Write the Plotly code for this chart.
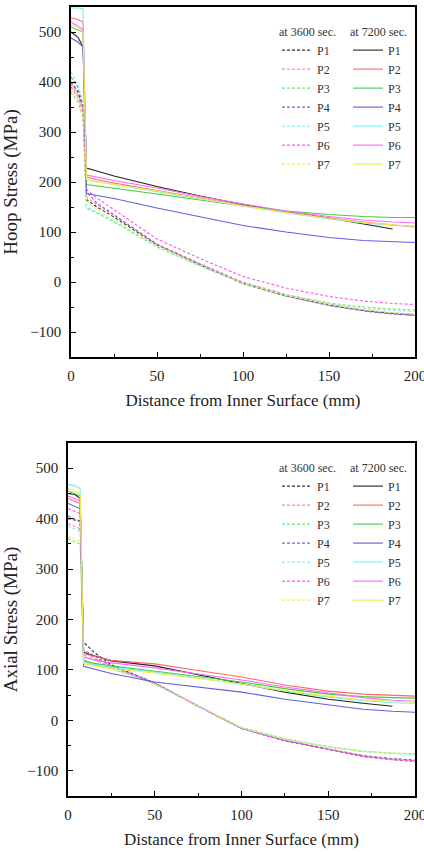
import plotly.graph_objects as go

# ---------------- data ----------------
distance = [0, 4, 7, 9, 15, 25, 50, 75, 100, 125, 150, 170, 187, 200]
series = ["P1", "P2", "P3", "P4", "P5", "P6", "P7"]

# Hoop stress (MPa)
hoop_3600 = {
    "P1": [400, 380, 350, 165, 150, 130, 74, 35, -3, -28, -46, -57, -63, -66],
    "P2": [395, 375, 345, 170, 155, 133, 76, 37, 0, -25, -44, -56, -62, -65],
    "P3": [380, 360, 330, 148, 138, 120, 70, 32, -2, -26, -42, -50, -54, -56],
    "P4": [410, 390, 355, 180, 158, 134, 75, 34, -3, -28, -47, -58, -64, -67],
    "P5": [420, 395, 360, 150, 140, 122, 72, 33, -2, -27, -44, -53, -57, -59],
    "P6": [390, 370, 340, 185, 168, 145, 86, 47, 11, -12, -29, -38, -43, -45],
    "P7": [385, 365, 335, 160, 145, 125, 73, 34, -3, -27, -45, -55, -61, -64],
}
hoop_7200 = {
    "P1": [500, 490, 470, 228, 222, 212, 191, 172, 155, 140, 128, 116, 106, None],
    "P2": [528, 525, 520, 210, 205, 198, 183, 168, 153, 140, 128, 120, 114, 110],
    "P3": [510, 505, 500, 195, 192, 187, 176, 164, 152, 142, 135, 131, 129, 129],
    "P4": [488, 480, 470, 177, 173, 167, 148, 130, 113, 100, 89, 83, 80, 79],
    "P5": [548, 548, 546, 205, 201, 195, 181, 166, 152, 138, 126, 118, 113, 112],
    "P6": [520, 512, 505, 214, 210, 203, 188, 171, 156, 142, 131, 124, 120, 118],
    "P7": [515, 510, 500, 205, 200, 195, 182, 167, 152, 139, 127, 119, 114, 111],
}

# Axial stress (MPa)
axial_3600 = {
    "P1": [400, 398, 395, 155, 135, 110, 74, 28, -16, -40, -57, -70, -76, -79],
    "P2": [390, 385, 380, 130, 120, 106, 73, 28, -16, -40, -57, -70, -76, -80],
    "P3": [360, 355, 350, 120, 112, 103, 72, 28, -14, -36, -52, -61, -65, -66],
    "P4": [405, 400, 395, 140, 128, 108, 74, 28, -16, -41, -58, -72, -78, -82],
    "P5": [385, 380, 375, 118, 111, 104, 72, 28, -15, -38, -53, -62, -66, -68],
    "P6": [420, 415, 410, 135, 124, 108, 74, 29, -16, -40, -57, -71, -78, -80],
    "P7": [365, 360, 355, 110, 107, 102, 72, 28, -15, -37, -53, -62, -65, -67],
}
axial_7200 = {
    "P1": [450, 448, 440, 135, 128, 118, 108, 90, 73, 56, 42, 34, 28, None],
    "P2": [440, 435, 430, 133, 127, 119, 112, 99, 86, 70, 58, 52, 49, 48],
    "P3": [455, 450, 445, 118, 113, 108, 98, 87, 76, 63, 52, 47, 45, 44],
    "P4": [430, 425, 420, 107, 102, 93, 76, 66, 56, 42, 31, 22, 18, 16],
    "P5": [468, 465, 460, 115, 110, 105, 96, 84, 72, 58, 46, 39, 35, 34],
    "P6": [445, 440, 435, 125, 120, 114, 104, 92, 80, 66, 54, 45, 40, 38],
    "P7": [460, 455, 450, 112, 108, 102, 94, 83, 72, 59, 48, 41, 38, 36],
}

x_ticks = [0, 50, 100, 150, 200]
y_ticks = [-100, 0, 100, 200, 300, 400, 500]

colors_3600 = {"P1": "#333333", "P2": "#ff88aa", "P3": "#66ee66", "P4": "#7766cc",
               "P5": "#88eeee", "P6": "#ff55ee", "P7": "#eeee66"}
colors_7200 = {"P1": "#222222", "P2": "#ff6666", "P3": "#44cc44", "P4": "#6060dd",
               "P5": "#77eeee", "P6": "#ff66ff", "P7": "#eeee44"}

FONT = "Liberation Serif"

fig = go.Figure()

def add_group(data, colors, dash, xa, ya, legend):
    for p in series:
        fig.add_trace(go.Scatter(
            x=distance, y=data[p], mode="lines", name=p,
            line=dict(color=colors[p], width=1.1, dash=dash),
            xaxis=xa, yaxis=ya, legend=legend, connectgaps=False,
        ))

add_group(hoop_3600, colors_3600, "3px,2px", "x", "y", "legend")
add_group(hoop_7200, colors_7200, "solid", "x", "y", "legend2")
add_group(axial_3600, colors_3600, "3px,2px", "x2", "y2", "legend3")
add_group(axial_7200, colors_7200, "solid", "x2", "y2", "legend4")

axis_common = dict(
    showline=True, linecolor="black", linewidth=1.6, mirror=True,
    ticks="inside", ticklen=5, tickwidth=1.4, tickcolor="black",
    showgrid=False, zeroline=False,
    tickfont=dict(family=FONT, size=15, color="#222"),
    automargin=False, ticklabeloverflow="allow",
)

ML, MR, MT, MB = 68, 9, 7, 56
W, H = 424, 852
pw = W - ML - MR
ph = H - MT - MB

def ydom(top_px, bot_px):
    return [(H - MB - bot_px) / ph, (H - MB - top_px) / ph]

xminor = dict(ticks="inside", dtick=25, ticklen=3, tickcolor="black")
yminor = dict(ticks="inside", dtick=50, ticklen=3, tickcolor="black")
xtitle = "Distance from Inner Surface (mm)"

fig.update_layout(
    width=W, height=H,
    margin=dict(l=ML, r=MR, t=MT, b=MB),
    paper_bgcolor="white", plot_bgcolor="white",
    font=dict(family=FONT, color="#222"),
    xaxis=dict(**axis_common, domain=[(71 - ML) / pw, 1], range=[0, 200],
               tickvals=x_ticks, minor=xminor, anchor="y", ticklabelstandoff=4,
               title=dict(text=xtitle, font=dict(family=FONT, size=17), standoff=11)),
    yaxis=dict(**axis_common, domain=ydom(7, 357), range=[-150, 550],
               tickvals=y_ticks, minor=yminor, anchor="x", ticklabelstandoff=5,
               title=dict(text="Hoop Stress (MPa)", font=dict(family=FONT, size=19), standoff=9)),
    xaxis2=dict(**axis_common, domain=[0, 1], range=[0, 200],
                tickvals=x_ticks, minor=xminor, anchor="y2", ticklabelstandoff=4,
                title=dict(text=xtitle, font=dict(family=FONT, size=17), standoff=11)),
    yaxis2=dict(**axis_common, domain=ydom(443, 796), range=[-150, 550],
                tickvals=y_ticks, minor=yminor, anchor="x2", ticklabelstandoff=5,
                title=dict(text="Axial Stress (MPa)", font=dict(family=FONT, size=19), standoff=9)),
)

def legend_cfg(x_px, y_px, title):
    return dict(
        x=(x_px - ML) / pw, y=(H - MB - y_px) / ph, xanchor="left", yanchor="top",
        xref="paper", yref="paper",
        bgcolor="rgba(0,0,0,0)", borderwidth=0,
        font=dict(family=FONT, size=12, color="#333"),
        title=dict(text=title, font=dict(family=FONT, size=12, color="#333")),
        itemwidth=30, tracegroupgap=0,
    )

fig.update_layout(
    legend=legend_cfg(277, 20, "at 3600 sec."),
    legend2=legend_cfg(348, 20, "at 7200 sec."),
    legend3=legend_cfg(277, 456, "at 3600 sec."),
    legend4=legend_cfg(348, 456, "at 7200 sec."),
)

fig.write_html("out.html")
